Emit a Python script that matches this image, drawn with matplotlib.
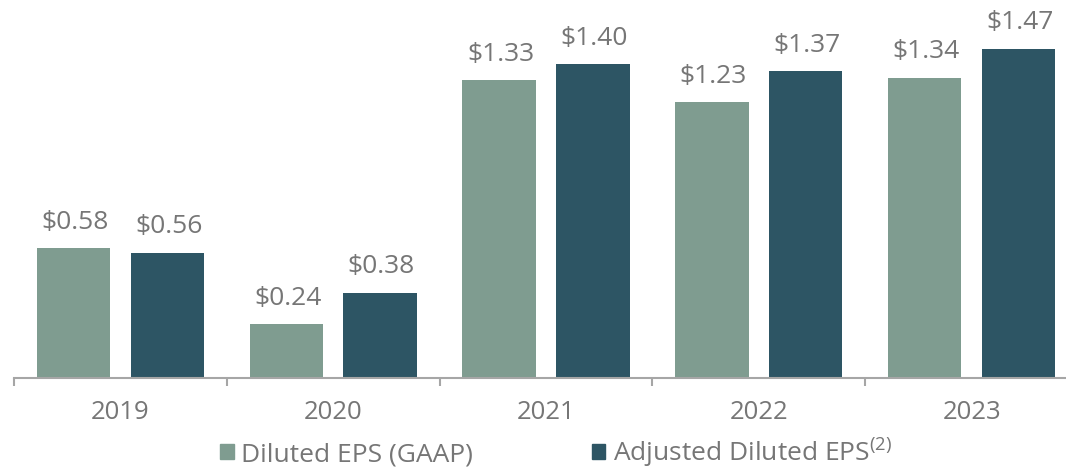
#importing libraries
import numpy as np
import matplotlib
matplotlib.use('Agg')
import matplotlib.pyplot as plt
from matplotlib.patches import Patch

#data
years = ['2019', '2020', '2021', '2022', '2023']
diluted_eps = [0.58, 0.24, 1.33, 1.23, 1.34]
adjusted_eps = [0.56, 0.38, 1.40, 1.37, 1.47]
series_names = ['Diluted EPS (GAAP)', 'Adjusted Diluted EPS$^{(2)}$']

#colours and fonts
green = '#7F9C90'
dark = '#2D5564'
text_gray = '#767676'
axis_gray = '#A6A6A6'

plt.rcParams['font.family'] = ['Open Sans', 'DejaVu Sans']
plt.rcParams['mathtext.fontset'] = 'custom'
plt.rcParams['mathtext.rm'] = 'Open Sans'
plt.rcParams['mathtext.it'] = 'Open Sans'

fig = plt.figure(figsize=(10.66, 4.71), dpi=100)
#axes runs a bit past the right edge, like the original
ax = fig.add_axes([14 / 1066, 1 - 378 / 471, 1064 / 1066, 378 / 471])

x = np.arange(len(years))
bar_w = 0.345
offset = 0.22

bars1 = ax.bar(x - offset, diluted_eps, width=bar_w, color=green)
bars2 = ax.bar(x + offset, adjusted_eps, width=bar_w, color=dark)

#value labels above each bar
for bars, vals in [(bars1, diluted_eps), (bars2, adjusted_eps)]:
    for b, v in zip(bars, vals):
        ax.annotate(f'${v:.2f}', (b.get_x() + b.get_width() / 2, v),
                    xytext=(1, 14), textcoords='offset points',
                    ha='center', va='baseline', fontsize=19, color=text_gray)

ax.set_xlim(-0.5, len(years) - 0.5)
ax.set_ylim(0, 378 / 224)

#only the bottom axis line is shown
for side in ['top', 'right', 'left']:
    ax.spines[side].set_visible(False)
ax.spines['bottom'].set_color(axis_gray)
ax.spines['bottom'].set_linewidth(1.5)
ax.set_yticks([])

#year labels with no tick marks, and tick marks at the group borders
ax.set_xticks(x)
ax.set_xticklabels(years, fontsize=18.5, color=text_gray)
ax.tick_params(axis='x', which='major', length=0, pad=16)
ax.set_xticks(np.arange(len(years) + 1) - 0.5, minor=True)
ax.tick_params(axis='x', which='minor', length=6, width=1.5, color=axis_gray)

#legend at the bottom
handles = [Patch(color=green), Patch(color=dark)]
fig.legend(handles, series_names, loc='center', bbox_to_anchor=(0.522, 0.038),
           ncol=2, frameon=False, fontsize=19, labelcolor=text_gray,
           handlelength=0.5, handleheight=0.5, handletextpad=0.3,
           columnspacing=4.5)

fig.savefig('out.png', dpi=100)
